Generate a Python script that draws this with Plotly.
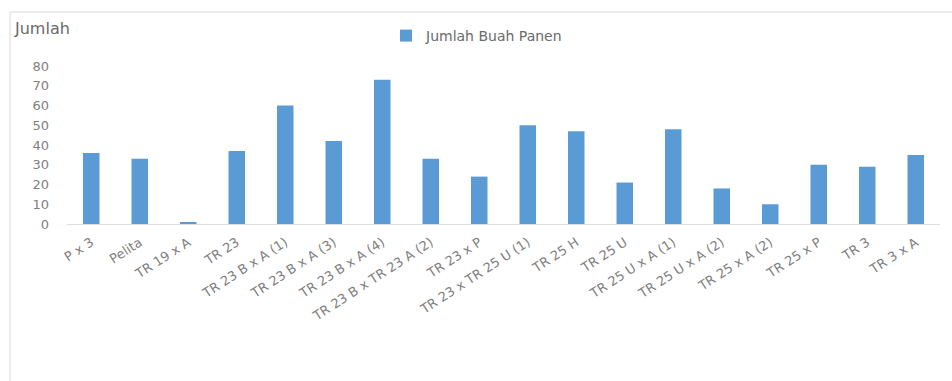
import plotly.graph_objects as go

categories = ["P x 3", "Pelita", "TR 19 x A", "TR 23", "TR 23 B x A (1)", "TR 23 B x A (3)",
              "TR 23 B x A (4)", "TR 23 B x TR 23 A (2)", "TR 23 x P", "TR 23 x TR 25 U (1)",
              "TR 25 H", "TR 25 U", "TR 25 U x A (1)", "TR 25 U x A (2)", "TR 25 x A (2)",
              "TR 25 x P", "TR 3", "TR 3 x A"]
values = [36, 33, 1, 37, 60, 42, 73, 33, 24, 50, 47, 21, 48, 18, 10, 30, 29, 35]
series_name = "Jumlah Buah Panen"
y_ticks = [0, 10, 20, 30, 40, 50, 60, 70, 80]

FONT = "DejaVu Sans"
GRAY = "#808080"

fig = go.Figure()
fig.add_trace(go.Bar(x=categories, y=values, name=series_name,
                     marker=dict(color="#5B9BD5", line=dict(width=0)),
                     width=0.34, showlegend=True))

W, H = 952, 381
l, r, t, b = 67, 12, 66, 157
pw, ph = W - l - r, H - t - b

def px_x(x):
    return (x - l) / pw

def px_y(y):
    return (H - b - y) / ph

fig.update_layout(
    width=W, height=H,
    margin=dict(l=l, r=r, t=t, b=b, autoexpand=False),
    paper_bgcolor="white", plot_bgcolor="white",
    font=dict(family=FONT, size=11, color=GRAY),
    showlegend=True,
    legend=dict(orientation="h", x=px_x(386), y=px_y(36), xanchor="left", yanchor="middle",
                font=dict(size=14, color="#6a6a6a"), bgcolor="rgba(0,0,0,0)"),
    xaxis=dict(tickangle=-33, showgrid=False, showline=True, linecolor="#dedede",
               linewidth=1, ticks="", ticklabelstandoff=5,
               tickfont=dict(size=13, color=GRAY)),
    yaxis=dict(range=[0, 80], tickvals=y_ticks, showgrid=False, zeroline=False,
               showline=False, ticks="", ticklabelstandoff=17,
               tickfont=dict(size=13, color=GRAY)),
)

fig.add_annotation(text="Jumlah", xref="paper", yref="paper", x=px_x(12), y=px_y(28),
                   xanchor="left", yanchor="middle", showarrow=False,
                   font=dict(size=16, color="#6a6a6a", family=FONT))

# chart frame (top and left borders)
fig.add_shape(type="line", xref="paper", yref="paper", x0=px_x(10), x1=px_x(W), y0=px_y(12), y1=px_y(12),
              line=dict(color="#d9d9d9", width=1))
fig.add_shape(type="line", xref="paper", yref="paper", x0=px_x(10), x1=px_x(10), y0=px_y(12), y1=px_y(H),
              line=dict(color="#d9d9d9", width=1))

fig.write_html("out.html")
